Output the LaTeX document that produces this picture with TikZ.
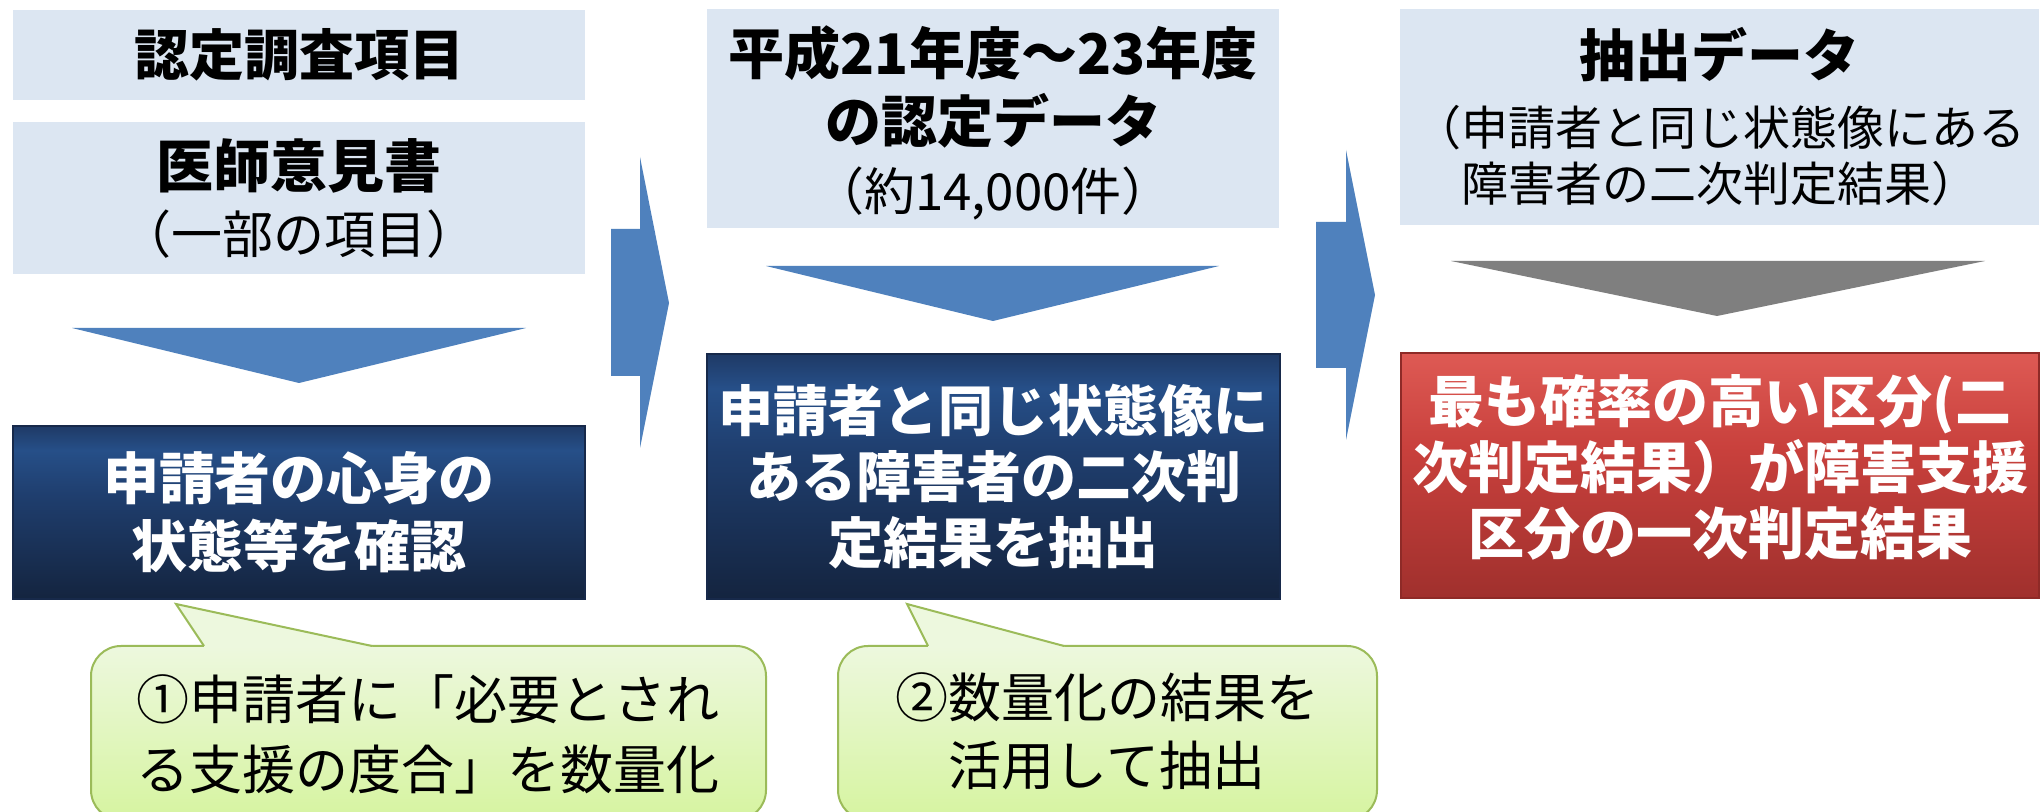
\documentclass[tikz,border=0pt]{standalone}
\usepackage{fontspec}
\setmainfont{Noto Sans CJK JP}
\definecolor{lightbox}{HTML}{DCE6F2}
\definecolor{arrowblue}{HTML}{4F81BD}
\definecolor{arrowgray}{HTML}{7F7F7F}
\definecolor{dbtop}{HTML}{1F3A66}
\definecolor{dblight}{HTML}{264F88}
\definecolor{dbmid}{HTML}{1F3E6E}
\definecolor{dbbot}{HTML}{14243F}
\definecolor{dbedge}{HTML}{17294A}
\definecolor{rdtop}{HTML}{DE5A54}
\definecolor{rdmid}{HTML}{C8403C}
\definecolor{rdbot}{HTML}{A0302D}
\definecolor{rdedge}{HTML}{8E2A27}
\definecolor{cotop}{HTML}{EDF8DE}
\definecolor{cobot}{HTML}{D6F4A0}
\definecolor{coedge}{HTML}{9BBB59}
\pgfdeclareverticalshading{dbshade}{100bp}{color(0bp)=(dbbot); color(25bp)=(dbbot); color(55bp)=(dbmid); color(68bp)=(dblight); color(75bp)=(dbtop); color(100bp)=(dbtop)}
\pgfdeclareverticalshading{rdshade}{100bp}{color(0bp)=(rdbot); color(25bp)=(rdbot); color(55bp)=(rdmid); color(75bp)=(rdtop); color(100bp)=(rdtop)}
\newcommand{\fsz}[2]{\fontsize{#1}{#2}\selectfont}
\begin{document}
\begin{tikzpicture}[x=0.5pt,y=-0.5pt,
  lbox/.style={fill=lightbox, inner sep=0pt, align=center, text=black},
  dbox/.style={shade, shading=dbshade, draw=dbedge, line width=0.6pt, inner sep=0pt, align=center, text=white},
  rbox/.style={shade, shading=rdshade, draw=rdedge, line width=0.6pt, inner sep=0pt, align=center, text=white},
  btext/.style={inner sep=0pt, align=center},
  blockarrow/.style={fill=arrowblue},
  grayarrow/.style={fill=arrowgray},
  cobody/.style={draw=coedge, line width=1pt, top color=cotop, bottom color=cobot, rounded corners=15pt},
  coedgeline/.style={draw=coedge, line width=1pt, line join=miter},
  ctext/.style={align=center, inner sep=0pt, text=black}
]
\useasboundingbox (0,0) rectangle (2042,812);
\fill[white] (0,0) rectangle (2042,812);

% column 1
\node[lbox, minimum width=286pt, minimum height=45pt, font=\fsz{27.5pt}{33pt}\bfseries] (A) at (299,55) {認定調査項目};
\node[lbox, minimum width=286pt, minimum height=76pt, font=\fsz{28pt}{33pt}] (B) at (299,198)
  {{\fsz{28.5pt}{33pt}\bfseries 医師意見書}\\{\fsz{25.5pt}{33pt}（一部の項目）}};
\fill[blockarrow] (72,328) -- (526,328) -- (299,383) -- cycle;
\node[dbox, minimum width=286pt, minimum height=86.5pt, font=\fsz{28pt}{34pt}\bfseries] (D1) at (299,512.5)
  {申請者の心身の\\状態等を確認};

% callout 1
\shade[cobody] (91,646) rectangle (766,820);
\fill[cotop] (204,646) -- (176,604) -- (372,646) -- (372,648.5) -- (204,648.5) -- cycle;
\draw[coedgeline] (204,646) -- (176,604) -- (372,646);
\node[ctext, font=\fsz{26.5pt}{35pt}] (c1) at (428,734) {①申請者に「必要とされ\\る支援の度合」を数量化};

% arrow 1
\fill[blockarrow] (611,229) -- (640,229) -- (640,157) -- (669,303) -- (640,448) -- (640,376) -- (611,376) -- cycle;

% column 2
\node[lbox, minimum width=286pt, minimum height=109.5pt] (C) at (993,118.5) {};
\node[btext, font=\fsz{28pt}{34pt}] (Ct) at (993,123)
  {{\bfseries 平成21年度～23年度}\\{\bfseries の認定データ}\\{\fsz{25.5pt}{34pt}（約14,000件）}};
\fill[blockarrow] (766,266) -- (1219,266) -- (993,321) -- cycle;
\node[dbox, minimum width=286.5pt, minimum height=122.5pt, font=\fsz{27.5pt}{33pt}\bfseries] (D2) at (993.5,476.5)
  {申請者と同じ状態像に\\ある障害者の二次判\\定結果を抽出};

% callout 2
\shade[cobody] (838,646) rectangle (1377,820);
\fill[cotop] (928,646) -- (907,604) -- (1064,646) -- (1064,648.5) -- (928,648.5) -- cycle;
\draw[coedgeline] (928,646) -- (907,604) -- (1064,646);
\node[ctext, font=\fsz{26.5pt}{34pt}] (c2) at (1107,731) {②数量化の結果を\\活用して抽出};

% arrow 2
\fill[blockarrow] (1316,222) -- (1346,222) -- (1346,150) -- (1375,295) -- (1346,440) -- (1346,368) -- (1316,368) -- cycle;

% column 3
\node[lbox, minimum width=319.5pt, minimum height=108pt, font=\fsz{28pt}{34.5pt}] (D) at (1719.5,117)
  {{\bfseries 抽出データ}\\{\fsz{23.5pt}{28pt}（申請者と同じ状態像にある}\\[-6.5pt]{\fsz{23.5pt}{28pt}障害者の二次判定結果）}};
\fill[grayarrow] (1451,261) -- (1985,261) -- (1717,316) -- cycle;
\node[rbox, minimum width=319pt, minimum height=122.5pt] (R) at (1720,475.5) {};
\node[btext, text=white, font=\fsz{28pt}{33pt}\bfseries] (Rt) at (1720,467)
  {最も確率の高い区分(二\\次判定結果）が障害支援\\区分の一次判定結果};
\end{tikzpicture}
\end{document}
